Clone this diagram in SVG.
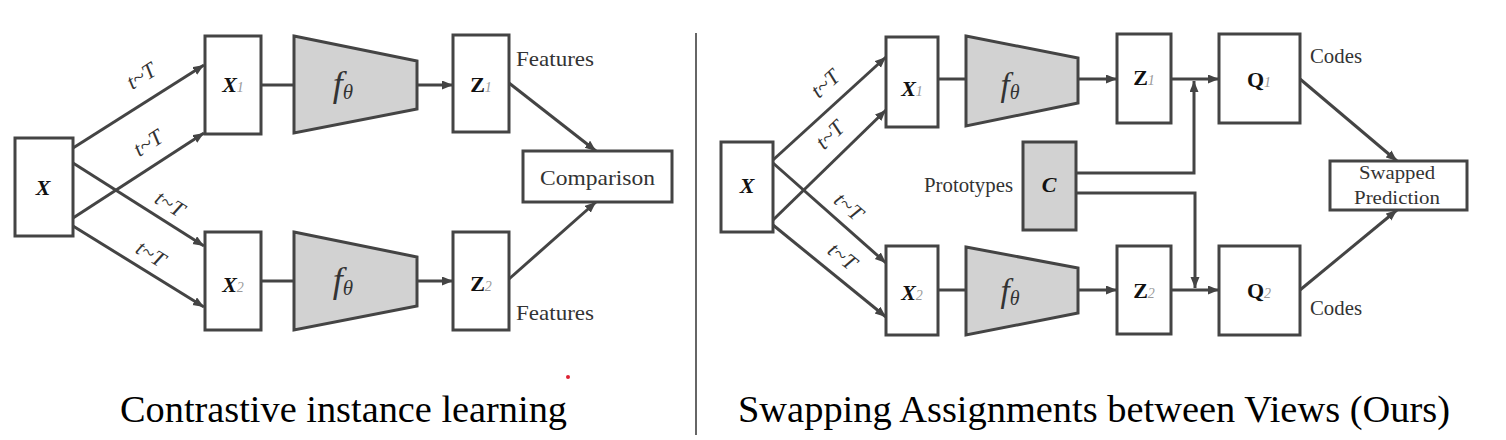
<svg xmlns="http://www.w3.org/2000/svg" width="1506" height="440" viewBox="0 0 1506 440" font-family="Liberation Serif">
<defs>
<marker id="ah" markerUnits="userSpaceOnUse" markerWidth="12" markerHeight="10" refX="11" refY="4.5" orient="auto">
<path d="M0,0 L11,4.5 L0,9 z" fill="#444"/>
</marker>
<style>
.box{fill:#fff;stroke:#444;stroke-width:3}
.gray{fill:#d2d2d2;stroke:#444;stroke-width:3}
.ln{fill:none;stroke:#444;stroke-width:3}
.ar{fill:none;stroke:#444;stroke-width:3;marker-end:url(#ah)}
text{fill:#333}
.lab{font-size:22px}
.var{font-size:22px;font-weight:bold;font-style:italic;fill:#111}
.varu{font-size:22px;font-weight:bold;fill:#111}
.sub{font-size:14px;font-style:italic;font-weight:normal;fill:#999}
.tt{font-size:22px;font-style:italic;fill:#333}
.f{font-style:italic;fill:#333}
.title{font-size:38px;fill:#000}
</style>
</defs>
<rect width="1506" height="440" fill="#fff"/>

<!-- divider -->
<line x1="696" y1="33" x2="696" y2="435" stroke="#333" stroke-width="1.5"/>

<!-- ===== Left panel ===== -->
<g id="connectors-left">
<line class="ar" x1="73" y1="148" x2="204" y2="65"/>
<line class="ar" x1="73" y1="218" x2="204" y2="133"/>
<line class="ar" x1="73" y1="163" x2="204" y2="246"/>
<line class="ar" x1="73" y1="226" x2="204" y2="307"/>
<line class="ln" x1="261" y1="85" x2="294" y2="85"/>
<line class="ln" x1="261" y1="281" x2="294" y2="281"/>
<line class="ar" x1="417" y1="85" x2="453" y2="85"/>
<line class="ar" x1="417" y1="281" x2="453" y2="281"/>
<line class="ar" x1="509" y1="83" x2="596" y2="151"/>
<line class="ar" x1="509" y1="279" x2="596" y2="202"/>
<text class="tt" font-family="Liberation Serif" text-anchor="middle" transform="translate(145,82) rotate(-32)">t~T</text>
<text class="tt" font-family="Liberation Serif" text-anchor="middle" transform="translate(152,149) rotate(-33)">t~T</text>
<text class="tt" font-family="Liberation Serif" text-anchor="middle" transform="translate(166,210) rotate(32)">t~T</text>
<text class="tt" font-family="Liberation Serif" text-anchor="middle" transform="translate(147,260) rotate(32)">t~T</text>
</g>

<g id="L-X" font-family="Liberation Serif">
<rect class="box" x="15" y="138" width="58" height="98"/>
<text class="var" x="43" y="195" text-anchor="middle">X</text>
</g>
<g id="L-X1" font-family="Liberation Serif">
<rect class="box" x="205" y="36" width="56" height="98"/>
<text class="var" x="233" y="92" text-anchor="middle">X<tspan class="sub">1</tspan></text>
</g>
<g id="L-X2" font-family="Liberation Serif">
<rect class="box" x="205" y="232" width="56" height="98"/>
<text class="var" x="233" y="292" text-anchor="middle">X<tspan class="sub">2</tspan></text>
</g>
<g id="L-f1" font-family="Liberation Serif">
<polygon class="gray" points="294,36 417,61 417,109 294,133"/>
<text class="f" x="343" y="96" text-anchor="middle" font-size="36">f<tspan font-size="21" dy="3">θ</tspan></text>
</g>
<g id="L-f2" font-family="Liberation Serif">
<polygon class="gray" points="294,232 417,257 417,306 294,330"/>
<text class="f" x="343" y="292" text-anchor="middle" font-size="36">f<tspan font-size="21" dy="3">θ</tspan></text>
</g>
<g id="L-Z1" font-family="Liberation Serif">
<rect class="box" x="453" y="35" width="56" height="97"/>
<text class="varu" x="481" y="92" text-anchor="middle">Z<tspan class="sub">1</tspan></text>
<text class="lab" x="516" y="66" textLength="78" lengthAdjust="spacingAndGlyphs">Features</text>
</g>
<g id="L-Z2" font-family="Liberation Serif">
<rect class="box" x="453" y="232" width="56" height="98"/>
<text class="varu" x="481" y="291" text-anchor="middle">Z<tspan class="sub">2</tspan></text>
<text class="lab" x="516" y="320" textLength="78" lengthAdjust="spacingAndGlyphs">Features</text>
</g>
<g id="L-Comparison" font-family="Liberation Serif">
<rect class="box" x="523" y="151" width="149" height="51"/>
<text class="lab" x="540" y="185" textLength="115" lengthAdjust="spacingAndGlyphs">Comparison</text>
</g>

<circle cx="568" cy="377" r="2" fill="#d23"/>

<text class="title" font-family="Liberation Serif" x="120" y="422" textLength="447" lengthAdjust="spacingAndGlyphs">Contrastive instance learning</text>

<!-- ===== Right panel ===== -->
<g id="connectors-right">
<line class="ar" x1="773" y1="160" x2="886" y2="57"/>
<line class="ar" x1="773" y1="220" x2="886" y2="110"/>
<line class="ar" x1="773" y1="163" x2="886" y2="263"/>
<line class="ar" x1="773" y1="225" x2="886" y2="317"/>
<line class="ln" x1="938" y1="79" x2="966" y2="79"/>
<line class="ln" x1="938" y1="290" x2="966" y2="290"/>
<line class="ar" x1="1078" y1="79" x2="1117" y2="79"/>
<line class="ar" x1="1078" y1="290" x2="1117" y2="290"/>
<line class="ar" x1="1171" y1="79" x2="1219" y2="79"/>
<line class="ar" x1="1171" y1="290" x2="1219" y2="290"/>
<polyline class="ar" points="1076,173 1194,173 1194,81"/>
<polyline class="ar" points="1076,193 1195,193 1195,288"/>
<line class="ar" x1="1300" y1="79" x2="1397" y2="161"/>
<line class="ar" x1="1300" y1="290" x2="1397" y2="210"/>
<text class="tt" font-family="Liberation Serif" text-anchor="middle" transform="translate(830,89) rotate(-42)">t~T</text>
<text class="tt" font-family="Liberation Serif" text-anchor="middle" transform="translate(835,140) rotate(-44)">t~T</text>
<text class="tt" font-family="Liberation Serif" text-anchor="middle" transform="translate(844,212) rotate(41)">t~T</text>
<text class="tt" font-family="Liberation Serif" text-anchor="middle" transform="translate(838,262) rotate(39)">t~T</text>
</g>

<g id="R-X" font-family="Liberation Serif">
<rect class="box" x="721" y="142" width="52" height="90"/>
<text class="var" x="747" y="193" text-anchor="middle">X</text>
</g>
<g id="R-X1" font-family="Liberation Serif">
<rect class="box" x="886" y="37" width="52" height="90"/>
<text class="var" x="912" y="96" text-anchor="middle">X<tspan class="sub">1</tspan></text>
</g>
<g id="R-X2" font-family="Liberation Serif">
<rect class="box" x="886" y="246" width="52" height="89"/>
<text class="var" x="912" y="300" text-anchor="middle">X<tspan class="sub">2</tspan></text>
</g>
<g id="R-f1" font-family="Liberation Serif">
<polygon class="gray" points="966,36 1078,58 1078,103 966,126"/>
<text class="f" x="1010" y="96" text-anchor="middle" font-size="33">f<tspan font-size="20" dy="3">θ</tspan></text>
</g>
<g id="R-f2" font-family="Liberation Serif">
<polygon class="gray" points="966,247 1078,268 1078,313 966,335"/>
<text class="f" x="1010" y="302" text-anchor="middle" font-size="33">f<tspan font-size="20" dy="3">θ</tspan></text>
</g>
<g id="R-C" font-family="Liberation Serif">
<rect class="gray" x="1023" y="142" width="53" height="88"/>
<text class="var" x="1049" y="192" text-anchor="middle">C</text>
<text class="lab" x="1013" y="192" text-anchor="end" textLength="89" lengthAdjust="spacingAndGlyphs">Prototypes</text>
</g>
<g id="R-Z1" font-family="Liberation Serif">
<rect class="box" x="1117" y="34" width="54" height="89"/>
<text class="varu" x="1144" y="85" text-anchor="middle">Z<tspan class="sub">1</tspan></text>
</g>
<g id="R-Z2" font-family="Liberation Serif">
<rect class="box" x="1117" y="246" width="54" height="88"/>
<text class="varu" x="1144" y="298" text-anchor="middle">Z<tspan class="sub">2</tspan></text>
</g>
<g id="R-Q1" font-family="Liberation Serif">
<rect class="box" x="1219" y="34" width="81" height="89"/>
<text class="varu" x="1259" y="87" text-anchor="middle" font-size="24">Q<tspan class="sub">1</tspan></text>
<text class="lab" x="1310" y="63" textLength="52" lengthAdjust="spacingAndGlyphs">Codes</text>
</g>
<g id="R-Q2" font-family="Liberation Serif">
<rect class="box" x="1219" y="246" width="81" height="89"/>
<text class="varu" x="1259" y="298" text-anchor="middle" font-size="24">Q<tspan class="sub">2</tspan></text>
<text class="lab" x="1310" y="315" textLength="52" lengthAdjust="spacingAndGlyphs">Codes</text>
</g>
<g id="R-Swapped" font-family="Liberation Serif">
<rect class="box" x="1330" y="161" width="137" height="49"/>
<text font-size="19" x="1397" y="179" text-anchor="middle" textLength="76" lengthAdjust="spacingAndGlyphs">Swapped</text>
<text font-size="19" x="1397" y="204" text-anchor="middle" textLength="86" lengthAdjust="spacingAndGlyphs">Prediction</text>
</g>

<text class="title" font-family="Liberation Serif" x="738" y="422" textLength="712" lengthAdjust="spacingAndGlyphs">Swapping Assignments between Views (Ours)</text>
</svg>
